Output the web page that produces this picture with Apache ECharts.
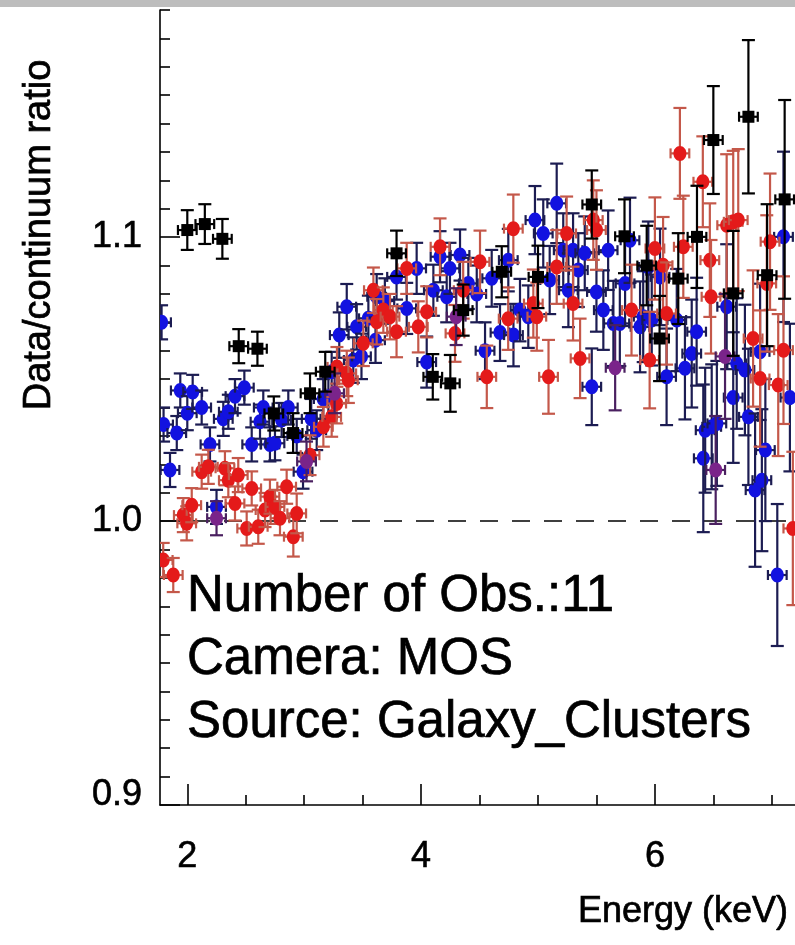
<!DOCTYPE html>
<html><head><meta charset="utf-8">
<script src="https://cdn.jsdelivr.net/npm/echarts@6/dist/echarts.min.js"></script>
<style>html,body{margin:0;padding:0;background:#fff}#c{width:795px;height:945px}</style>
</head><body><div id="c"></div>
<script>
// ---- data ----
const X_MIN = 1.7665, X_MAX = 7.1985;
const Y_MIN = 0.9, Y_MAX = 1.18;
const X_MAJOR = [2, 4, 6];
const X_MINOR = [2.5, 3, 3.5, 4.5, 5, 5.5, 6.5, 7];
const Y_MAJOR = [0.9, 1.0, 1.1];
const Y_MINOR = [0.91,0.92,0.93,0.94,0.95,0.96,0.97,0.98,0.99,1.01,1.02,1.03,1.04,1.05,1.06,1.07,1.08,1.09,1.11,1.12,1.13,1.14,1.15,1.16,1.17,1.18];
const BASELINE = 1.0;
const XERR = 0.08;

const blackE   = [2.00,2.15,2.30,2.44,2.60,2.74,2.905,3.05,3.18,3.79,4.10,4.25,4.36,4.69,5.00,5.46,5.74,5.93,6.04,6.20,6.36,6.50,6.67,6.80,6.96,7.11];
const blackR   = [1.1025,1.1046,1.0994,1.0616,1.0607,1.0379,1.031,1.045,1.0526,1.0943,1.0508,1.0485,1.0743,1.0878,1.086,1.1115,1.1003,1.090,1.0643,1.0854,1.1001,1.1342,1.0802,1.1424,1.0866,1.1133];
const blackErr = [0.007,0.007,0.007,0.006,0.006,0.006,0.007,0.007,0.007,0.008,0.008,0.010,0.009,0.009,0.011,0.012,0.013,0.014,0.015,0.016,0.018,0.019,0.022,0.027,0.025,0.035];

const blueE   = [1.78,1.797,1.852,1.91,1.94,2.00,2.046,2.123,2.194,2.25,2.308,2.351,2.408,2.488,2.551,2.622,2.65,2.707,2.75,2.807,2.864,2.936,2.99,3.06,3.107,3.163,3.207,3.235,3.30,3.364,3.42,3.449,3.49,3.549,3.61,3.62,3.69,3.79,3.877,3.962,4.048,4.105,4.162,4.219,4.247,4.333,4.404,4.476,4.547,4.604,4.675,4.746,4.79,4.846,4.917,4.974,5.045,5.10,5.16,5.216,5.26,5.30,5.345,5.40,5.46,5.50,5.559,5.60,5.645,5.70,5.745,5.787,5.873,5.90,5.944,5.973,6.044,6.10,6.187,6.257,6.315,6.357,6.414,6.43,6.486,6.53,6.614,6.67,6.70,6.77,6.80,6.857,6.90,6.915,6.945,7.047,7.10,7.155];
const blueR   = [1.070,1.034,1.018,1.031,1.046,1.038,1.0455,1.040,1.027,1.005,1.036,1.0385,1.044,1.047,1.027,1.035,1.040,1.027,1.0274,1.0356,1.040,1.030,1.0174,1.036,1.032,1.043,1.0438,1.0526,1.0655,1.0755,1.0567,1.0684,1.058,1.0714,1.0637,1.079,1.0775,1.086,1.0749,1.089,1.056,1.0813,1.0931,1.079,1.089,1.0937,1.0837,1.080,1.060,1.0855,1.0664,1.0919,1.0655,1.0743,1.072,1.106,1.1013,1.0849,1.1119,1.0954,1.0813,1.0954,1.0884,1.0943,1.0473,1.0807,1.0743,1.0954,1.0696,1.0696,1.0837,1.0989,1.0684,1.072,1.0895,1.0708,1.086,1.0508,1.0708,1.0538,1.059,1.0667,1.0221,1.032,1.0332,1.0344,1.0755,1.0435,1.0555,1.0532,1.0367,1.0109,1.0596,1.0144,1.025,0.981,1.1001,1.0435];
const blueErr = [0.006,0.006,0.006,0.006,0.006,0.006,0.006,0.006,0.006,0.006,0.006,0.006,0.006,0.006,0.006,0.006,0.006,0.006,0.006,0.006,0.006,0.006,0.006,0.007,0.007,0.007,0.007,0.007,0.008,0.008,0.008,0.008,0.008,0.008,0.008,0.008,0.008,0.008,0.009,0.009,0.009,0.009,0.009,0.009,0.009,0.009,0.009,0.010,0.010,0.010,0.010,0.011,0.011,0.011,0.011,0.012,0.012,0.012,0.014,0.013,0.013,0.013,0.013,0.013,0.0135,0.014,0.014,0.014,0.015,0.015,0.015,0.015,0.016,0.016,0.016,0.016,0.017,0.017,0.018,0.018,0.019,0.019,0.026,0.022,0.022,0.022,0.022,0.023,0.023,0.023,0.024,0.027,0.024,0.025,0.025,0.025,0.030,0.026];

const redE   = [1.794,1.88,1.966,1.995,2.038,2.123,2.18,2.322,2.351,2.408,2.436,2.508,2.551,2.607,2.665,2.707,2.75,2.793,2.85,2.907,2.936,3.05,3.164,3.235,3.278,3.28,3.364,3.378,3.506,3.592,3.62,3.677,3.734,3.79,3.877,3.976,4.048,4.162,4.29,4.36,4.504,4.562,4.745,4.789,4.96,4.99,5.09,5.16,5.245,5.30,5.36,5.473,5.50,5.80,5.955,6.00,6.07,6.10,6.214,6.243,6.41,6.47,6.48,6.614,6.67,6.713,6.84,6.90,6.957,6.985,7.055,7.10,7.18];
const redR   = [0.9863,0.981,1.0021,0.9992,1.0056,1.0174,1.0191,1.0186,1.0144,1.0062,1.0162,0.9974,1.0115,0.998,1.0039,1.0086,1.005,1.001,1.0121,0.9945,1.0027,1.0232,1.0332,1.0367,1.0414,1.0543,1.052,1.0496,1.0626,1.0813,1.0702,1.0743,1.072,1.0667,1.089,1.0684,1.0737,1.0966,1.0661,1.0813,1.0913,1.0508,1.0713,1.103,1.0766,1.072,1.0508,1.0895,1.1013,1.0766,1.0573,1.106,1.1025,1.0743,1.0567,1.096,1.0901,1.0731,1.1295,1.0966,1.1195,1.0919,1.079,1.1042,1.1054,1.106,1.0643,1.0502,1.0837,1.0984,1.0479,1.0602,0.9974];
const redErr = [0.006,0.006,0.006,0.006,0.006,0.006,0.006,0.006,0.006,0.006,0.006,0.006,0.006,0.006,0.006,0.006,0.006,0.006,0.006,0.007,0.007,0.007,0.007,0.007,0.007,0.007,0.008,0.008,0.008,0.008,0.008,0.008,0.008,0.009,0.009,0.009,0.009,0.010,0.010,0.010,0.011,0.011,0.011,0.012,0.012,0.012,0.013,0.013,0.013,0.013,0.014,0.014,0.014,0.016,0.017,0.018,0.017,0.018,0.016,0.018,0.016,0.020,0.020,0.025,0.025,0.025,0.024,0.024,0.024,0.024,0.025,0.026,0.027];

const purpleE   = [2.25,3.02,3.26,4.30,5.66,6.52,6.60];
const purpleR   = [1.001,1.021,1.045,1.072,1.054,1.018,1.058];
const purpleErr = [0.006,0.007,0.007,0.010,0.015,0.019,0.022];

const TEXT_LINES = ['Number of Obs.:11', 'Camera: MOS', 'Source: Galaxy_Clusters'];

// ---- chart ----
const FONT = '"Liberation Sans", Arial, Helvetica, sans-serif';
function rows(E, R, Er){ return E.map((e,i)=>[e, R[i], Er[i]]); }
function makeRender(pt, bar, shape){
  return function(params, api){
    const e=api.value(0), r=api.value(1), er=api.value(2);
    const c=api.coord([e,r]), t=api.coord([e,r+er]), b=api.coord([e,r-er]);
    const l=api.coord([e-XERR,r]), rr=api.coord([e+XERR,r]);
    const st={stroke:bar, lineWidth:2.2};
    const ch=[
      {type:'line', shape:{x1:c[0],y1:t[1],x2:c[0],y2:b[1]}, style:st},
      {type:'line', shape:{x1:c[0]-6.5,y1:t[1],x2:c[0]+6.5,y2:t[1]}, style:st},
      {type:'line', shape:{x1:c[0]-6.5,y1:b[1],x2:c[0]+6.5,y2:b[1]}, style:st},
      {type:'line', shape:{x1:l[0],y1:c[1],x2:rr[0],y2:c[1]}, style:st},
      {type:'line', shape:{x1:l[0],y1:c[1]-5,x2:l[0],y2:c[1]+5}, style:st},
      {type:'line', shape:{x1:rr[0],y1:c[1]-5,x2:rr[0],y2:c[1]+5}, style:st}
    ];
    if(shape==='square') ch.push({type:'rect', shape:{x:c[0]-6,y:c[1]-6,width:12,height:12}, style:{fill:pt}});
    else ch.push({type:'ellipse', shape:{cx:c[0],cy:c[1],rx:6.5,ry:7.5}, style:{fill:pt}});
    return {type:'group', children:ch};
  };
}
function errSeries(name, data, pt, bar, shape, z){
  return {type:'custom', name, data, z, clip:true, xAxisIndex:0, yAxisIndex:0,
    encode:{x:0, y:1}, renderItem: makeRender(pt, bar, shape), animation:false, silent:true};
}

const axisLineStyle = {color:'#000', width:1.6};
const chart = echarts.init(document.getElementById('c'), null, {renderer:'canvas'});
const txtStyle = (text, size, align) => ({text, font:size+'px '+FONT, fill:'#000', align, verticalAlign:'middle', stroke:'#000', lineWidth:0.7});
chart.setOption({
  animation:false,
  backgroundColor:'#fff',
  grid:{left:160, right:0, top:10, bottom:140, containLabel:false},
  xAxis:[
    {type:'value', min:X_MIN, max:X_MAX, position:'bottom',
     axisLine:{show:true, lineStyle:axisLineStyle},
     axisTick:{show:true, inside:true, length:21, customValues:X_MAJOR, lineStyle:{color:'#000', width:1.6}},
     axisLabel:{show:true, customValues:X_MAJOR, margin:34, color:'#000', fontSize:36, fontFamily:FONT,
       textBorderColor:'#000', textBorderWidth:0.6, formatter:v=>String(v)},
     splitLine:{show:false}},
    {type:'value', min:X_MIN, max:X_MAX, position:'bottom',
     axisLine:{show:false},
     axisTick:{show:true, inside:true, length:10, customValues:X_MINOR, lineStyle:{color:'#000', width:1.6}},
     axisLabel:{show:false}, splitLine:{show:false}}
  ],
  yAxis:[
    {type:'value', min:Y_MIN, max:Y_MAX, position:'left',
     axisLine:{show:true, lineStyle:axisLineStyle},
     axisTick:{show:true, inside:true, length:20, customValues:Y_MAJOR, lineStyle:{color:'#000', width:1.6}},
     axisLabel:{show:true, customValues:Y_MAJOR, margin:18, color:'#000', fontSize:36, fontFamily:FONT,
       textBorderColor:'#000', textBorderWidth:0.6,
       formatter:v=> Math.abs(v-0.9)<1e-6 ? '{lo|0.9}' : v.toFixed(1),
       rich:{lo:{fontSize:36, fontFamily:FONT, color:'#000', textBorderColor:'#000', textBorderWidth:0.6, padding:[0,0,20,0]}}},
     splitLine:{show:false}},
    {type:'value', min:Y_MIN, max:Y_MAX, position:'left',
     axisLine:{show:false},
     axisTick:{show:true, inside:true, length:10, customValues:Y_MINOR, lineStyle:{color:'#000', width:1.6}},
     axisLabel:{show:false}, splitLine:{show:false}}
  ],
  series:[
    {type:'line', data:[[X_MIN,BASELINE],[X_MAX,BASELINE]], symbol:'none', silent:true, z:1,
     lineStyle:{color:'#000', width:1.6, type:[18,14]}},
    errSeries('blue', rows(blueE,blueR,blueErr), '#1212e0', '#1c1c52', 'circle', 2),
    errSeries('red', rows(redE,redR,redErr), '#e41a1a', '#c4584a', 'circle', 3),
    errSeries('purple', rows(purpleE,purpleR,purpleErr), '#7a248a', '#4a2060', 'circle', 3),
    errSeries('black', rows(blackE,blackR,blackErr), '#000', '#000', 'square', 4)
  ],
  graphic:[
    {type:'rect', left:0, top:0, shape:{width:795, height:7}, style:{fill:'#bdbdbd'}, z:10},
    {type:'text', x:40, y:235, rotation:Math.PI/2, z:10, style:txtStyle('Data/continuum ratio', 38, 'center')},
    {type:'text', x:788, y:912, z:10, style:txtStyle('Energy (keV)', 36, 'right')},
    {type:'text', x:187, y:597, z:10, style:txtStyle(TEXT_LINES[0], 51, 'left')},
    {type:'text', x:187, y:660, z:10, style:txtStyle(TEXT_LINES[1], 51, 'left')},
    {type:'text', x:187, y:723, z:10, style:txtStyle(TEXT_LINES[2], 51, 'left')}
  ]
});
</script></body></html>
